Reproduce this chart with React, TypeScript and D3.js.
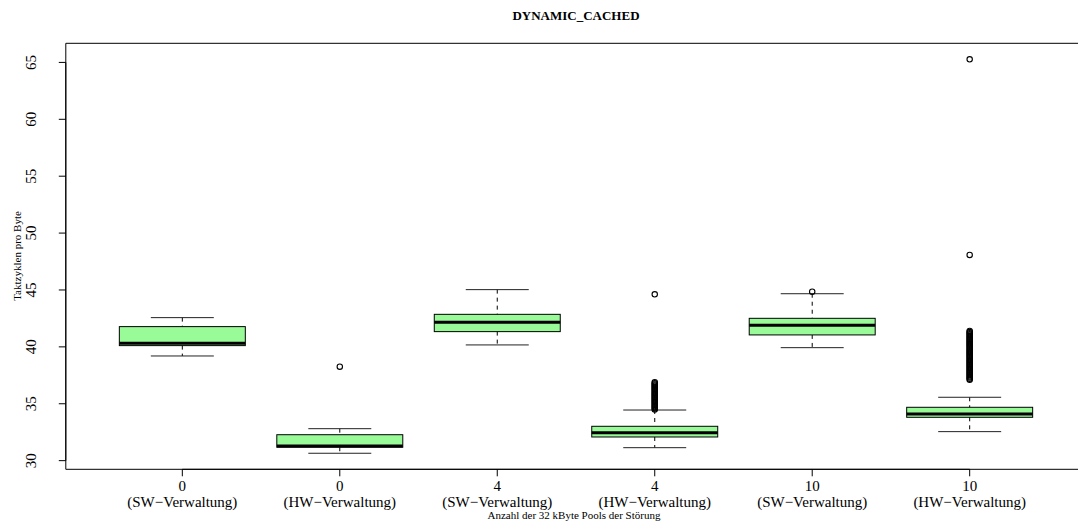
import React, { useRef, useEffect } from 'react';
import * as d3 from 'd3';

const groups = ['0', '0', '4', '4', '10', '10'];
const managers = ['(SW−Verwaltung)', '(HW−Verwaltung)', '(SW−Verwaltung)', '(HW−Verwaltung)', '(SW−Verwaltung)', '(HW−Verwaltung)'];
const lowerWhisker = [39.2, 30.65, 40.17, 31.14, 39.93, 32.55];
const q1 = [40.11, 31.18, 41.34, 32.08, 41.05, 33.81];
const median = [40.32, 31.29, 42.16, 32.46, 41.9, 34.1];
const q3 = [41.78, 32.28, 42.86, 33.02, 42.51, 34.69];
const upperWhisker = [42.57, 32.81, 45.03, 34.45, 44.67, 35.57];
const outliers = [
  [],
  [38.26],
  [],
  [44.62, 34.5, 34.6, 34.7, 34.8, 34.9, 35.0, 35.1, 35.2, 35.3, 35.4, 35.5, 35.6, 35.7, 35.8,
    35.9, 36.0, 36.1, 36.2, 36.3, 36.4, 36.5, 36.6, 36.7, 36.8, 36.9],
  [44.85],
  [65.27, 48.08, 37.1, 37.2, 37.3, 37.4, 37.5, 37.6, 37.7, 37.8, 37.9, 38.0, 38.1, 38.2, 38.3,
    38.4, 38.5, 38.6, 38.7, 38.8, 38.9, 39.0, 39.1, 39.2, 39.3, 39.4, 39.5, 39.6, 39.7, 39.8,
    39.9, 40.0, 40.1, 40.2, 40.3, 40.4, 40.5, 40.6, 40.7, 40.8, 40.9, 41.0, 41.1, 41.2, 41.3, 41.4],
];
const yTicks = [30, 35, 40, 45, 50, 55, 60, 65];

const W = 1078;
const H = 528;

const App = () => {
  const ref = useRef<SVGSVGElement>(null);

  useEffect(() => {
    const svg = d3.select(ref.current);
    svg.selectAll('*').remove();

    const font = '"Liberation Serif", "Times New Roman", serif';
    const x = d3.scaleLinear().domain([0.26, 6.74]).range([65.8, 1086.2]);
    const y = d3.scaleLinear().domain([29.24, 66.68]).range([469.3, 43.3]);
    const step = x(2) - x(1);
    const boxW = step * 0.8;
    const capW = boxW * 0.5;

    // Titel
    svg.append('text')
      .attr('x', (x(0.26) + x(6.74)) / 2)
      .attr('y', 19.5)
      .attr('text-anchor', 'middle')
      .style('font-family', font)
      .style('font-weight', 'bold')
      .style('font-size', '13px')
      .text('DYNAMIC_CACHED');

    const g = svg.append('g');

    groups.forEach((grp, i) => {
      const cx = x(i + 1);
      // Whisker (gestrichelt)
      g.append('line')
        .attr('x1', cx).attr('x2', cx)
        .attr('y1', y(upperWhisker[i])).attr('y2', y(q3[i]))
        .attr('stroke', '#000').attr('stroke-dasharray', '4,4');
      g.append('line')
        .attr('x1', cx).attr('x2', cx)
        .attr('y1', y(q1[i])).attr('y2', y(lowerWhisker[i]))
        .attr('stroke', '#000').attr('stroke-dasharray', '4,4');
      // Staples
      [upperWhisker[i], lowerWhisker[i]].forEach(v => {
        g.append('line')
          .attr('x1', cx - capW / 2).attr('x2', cx + capW / 2)
          .attr('y1', y(v)).attr('y2', y(v))
          .attr('stroke', '#222');
      });
      // Box
      g.append('rect')
        .attr('x', cx - boxW / 2)
        .attr('y', y(q3[i]))
        .attr('width', boxW)
        .attr('height', y(q1[i]) - y(q3[i]))
        .attr('fill', '#98FB98')
        .attr('stroke', '#000');
      // Median
      g.append('line')
        .attr('x1', cx - boxW / 2).attr('x2', cx + boxW / 2)
        .attr('y1', y(median[i])).attr('y2', y(median[i]))
        .attr('stroke', '#000').attr('stroke-width', 3);
      // Ausreißer
      outliers[i].forEach(v => {
        g.append('circle')
          .attr('cx', cx).attr('cy', y(v)).attr('r', 2.7)
          .attr('fill', 'none').attr('stroke', '#000').attr('stroke-width', 1.1);
      });
    });

    // Rahmen (rechte Kante liegt außerhalb des Bildes)
    const x0 = x(0.26), x1 = x(6.74), yt = y(66.68), yb = y(29.24);
    svg.append('path')
      .attr('d', `M${x1},${yt}H${x0}V${yb}H${x1}`)
      .attr('fill', 'none').attr('stroke', '#000');

    // y-Achse
    const yAxis = svg.append('g');
    yAxis.append('line')
      .attr('x1', x0).attr('x2', x0)
      .attr('y1', y(30)).attr('y2', y(65)).attr('stroke', '#000');
    yTicks.forEach(t => {
      yAxis.append('line')
        .attr('x1', x0).attr('x2', x0 - 7)
        .attr('y1', y(t)).attr('y2', y(t)).attr('stroke', '#000');
      yAxis.append('text')
        .attr('transform', `translate(36,${y(t)}) rotate(-90)`)
        .attr('text-anchor', 'middle')
        .style('font-family', font)
        .style('font-size', '15px')
        .text(t);
    });

    // x-Achse
    const xAxis = svg.append('g');
    xAxis.append('line')
      .attr('x1', x(1)).attr('x2', x(6))
      .attr('y1', yb).attr('y2', yb).attr('stroke', '#000');
    groups.forEach((grp, i) => {
      const cx = x(i + 1);
      xAxis.append('line')
        .attr('x1', cx).attr('x2', cx)
        .attr('y1', yb).attr('y2', yb + 7).attr('stroke', '#000');
      xAxis.append('text')
        .attr('x', cx).attr('y', 490.5)
        .attr('text-anchor', 'middle')
        .style('font-family', font).style('font-size', '15px')
        .text(grp);
      xAxis.append('text')
        .attr('x', cx).attr('y', 506.5)
        .attr('text-anchor', 'middle')
        .style('font-family', font).style('font-size', '15px')
        .text(managers[i]);
    });

    // Achsenbeschriftungen
    svg.append('text')
      .attr('x', 574).attr('y', 519)
      .attr('text-anchor', 'middle')
      .style('font-family', font).style('font-size', '11px')
      .text('Anzahl der 32 kByte Pools der Störung');

    svg.append('text')
      .attr('transform', `translate(21,256) rotate(-90)`)
      .attr('text-anchor', 'middle')
      .style('font-family', font).style('font-size', '11px')
      .text('Taktzyklen pro Byte');
  }, []);

  return (
    <div style={{ position: 'absolute', left: 0, top: 0, width: W, height: H, overflow: 'hidden' }}>
      <svg ref={ref} width={W} height={H} style={{ display: 'block', background: '#fff' }} />
    </div>
  );
};

export default App;
